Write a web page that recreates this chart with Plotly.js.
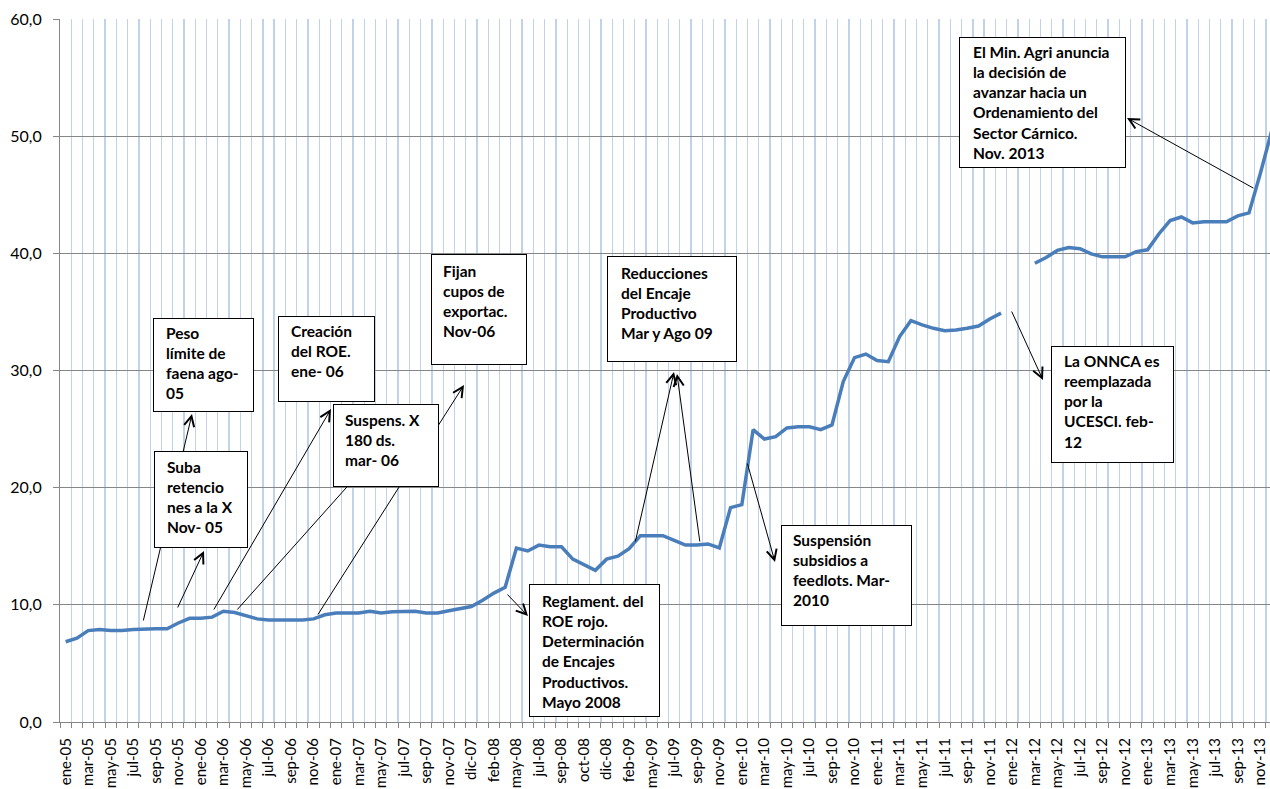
<!DOCTYPE html>
<html>
<head>
<meta charset="utf-8">
<script src="https://cdn.plot.ly/plotly-3.0.1.min.js"></script>
<style>
html,body{margin:0;padding:0;background:#fff;overflow:hidden}
#chart{width:1270px;height:789px}
</style>
</head>
<body>
<div id="chart"></div>
<script>
// ---- data ----
const tickLabels = ["ene-05","mar-05","may-05","jul-05","sep-05","nov-05","ene-06","mar-06","may-06","jul-06","sep-06","nov-06",
  "ene-07","mar-07","may-07","jul-07","sep-07","nov-07","dic-07","feb-08","may-08","jul-08","sep-08","oct-08","dic-08",
  "feb-09","may-09","jul-09","sep-09","nov-09","ene-10","mar-10","may-10","jul-10","sep-10","nov-10","ene-11","mar-11",
  "may-11","jul-11","sep-11","nov-11","ene-12","mar-12","may-12","jul-12","sep-12","nov-12","ene-13","mar-13","may-13",
  "jul-13","sep-13","nov-13"];

const values = [
  6.85, 7.15, 7.8, 7.9, 7.8, 7.8, 7.9, 7.95, 7.95, 7.95,
  8.45, 8.85, 8.85, 8.95, 9.45, 9.35, 9.05, 8.8, 8.7, 8.7,
  8.7, 8.7, 8.8, 9.15, 9.3, 9.3, 9.3, 9.45, 9.3, 9.4,
  9.45, 9.45, 9.3, 9.3, 9.5, 9.65, 9.85, 10.4, 11.0, 11.5,
  14.85, 14.6, 15.1, 14.95, 14.95, 13.9, 13.4, 12.95, 13.9, 14.15,
  14.8, 15.9, 15.9, 15.9, 15.5, 15.1, 15.1, 15.2, 14.85, 18.3,
  18.55, 24.95, 24.15, 24.35, 25.1, 25.2, 25.2, 24.95, 25.35, 29.05,
  31.1, 31.4, 30.85, 30.75, 32.9, 34.25, 33.9, 33.6, 33.4, 33.45,
  33.6, 33.8, 34.4, 34.9, null, null, 39.15, 39.65, 40.25, 40.5,
  40.4, 39.95, 39.7, 39.7, 39.7, 40.15, 40.3, 41.65, 42.8, 43.1,
  42.6, 42.7, 42.7, 42.7, 43.2, 43.45, 46.8, 50.4
];

const noteTexts = [
  ["Peso","límite de","faena ago-","05"],
  ["Suba","retencio","nes a la X","Nov- 05"],
  ["Creación","del ROE.","ene- 06"],
  ["Suspens. X","180 ds.","mar- 06"],
  ["Fijan","cupos de","exportac.","Nov-06"],
  ["Reducciones","del Encaje","Productivo","Mar y Ago 09"],
  ["Reglament. del","ROE rojo.","Determinación","de Encajes","Productivos.","Mayo 2008"],
  ["Suspensión","subsidios a","feedlots. Mar-","2010"],
  ["El Min. Agri anuncia","la decisión de","avanzar hacia un","Ordenamiento del","Sector Cárnico.","Nov. 2013"],
  ["La ONNCA es","reemplazada","por la","UCESCI. feb-","12"]
];

// ---- layout geometry (pixels) ----
const L = 60, T = 19, W = 1210, H = 703;
const px2x = p => (p - L) / W;
const py2y = p => (T + H - p) / H;

// box: [x0, y0, x1, y1, textLeft, firstLineCenter]
const boxes = [
  [153, 318, 254, 412, 167, 334],
  [154, 451, 248, 548, 168, 468],
  [278, 316, 375, 402, 292, 332],
  [333, 404, 439, 487, 346, 421],
  [431, 254, 527, 365, 444, 272],
  [607, 256, 737, 362, 622, 274],
  [529, 584, 660, 717, 543, 602],
  [781, 525, 912, 626, 794, 541],
  [959, 37, 1126, 168, 974, 53],
  [1051, 346, 1174, 463, 1065, 362]
];

// arrows: [tailX, tailY, headX, headY]
const arrows = [
  [143, 622, 192, 414],
  [177, 609, 204, 551],
  [213, 611, 331, 409],
  [236, 611, 380, 450],
  [317, 616, 464, 385],
  [506, 593, 528, 616],
  [635, 543, 674, 372],
  [700, 543, 677, 374],
  [747, 462, 775, 562],
  [1011, 310, 1043, 380],
  [1255, 189, 1127, 118]
];

const annotations = [];
arrows.forEach(a => {
  annotations.push({
    xref: 'paper', yref: 'paper', x: px2x(a[2]), y: py2y(a[3]),
    axref: 'pixel', ayref: 'pixel', ax: a[0] - a[2], ay: a[1] - a[3],
    text: '', showarrow: true, arrowhead: 5, arrowsize: 2, arrowwidth: 1,
    arrowcolor: '#000', standoff: 0, startstandoff: 0
  });
});
boxes.forEach(b => {
  annotations.push({
    xref: 'paper', yref: 'paper', x: px2x(b[0]), y: py2y(b[1]),
    xanchor: 'left', yanchor: 'top', text: '\u00a0', showarrow: false,
    width: b[2] - b[0] - 2, height: b[3] - b[1] - 2,
    bgcolor: '#ffffff', bordercolor: '#000', borderwidth: 1, borderpad: 0
  });
});
boxes.forEach((b, i) => {
  annotations.push({
    xref: 'paper', yref: 'paper', x: px2x(b[4] - 1), y: py2y(b[5] - 10),
    xanchor: 'left', yanchor: 'top', align: 'left', showarrow: false,
    text: noteTexts[i].map(s => '<b>' + s + '</b>').join('<br>'),
    font: {family: 'Lato, sans-serif', size: 15.5, color: '#000'},
    borderpad: 0, borderwidth: 0
  });
});

const xs = values.map((v, i) => i);
const tickVals = tickLabels.map((t, i) => 2 * i);

const trace = {
  x: xs, y: values, type: 'scatter', mode: 'lines',
  line: {color: '#4a7ebb', width: 3.5},
  connectgaps: false, hoverinfo: 'skip'
};

const layout = {
  width: 1270, height: 789,
  margin: {l: L, r: 0, t: T, b: 789 - T - H, pad: 0},
  paper_bgcolor: '#fff', plot_bgcolor: '#fff',
  showlegend: false,
  separators: ',.',
  font: {family: 'Lato, sans-serif', size: 15, color: '#000'},
  xaxis: {
    range: [-0.5, -0.5 + W / 11.27], tickmode: 'array', tickvals: tickVals, ticktext: tickLabels,
    tickangle: -90, showgrid: false, zeroline: false, ticks: '', showline: true,
    linecolor: '#868686', linewidth: 1, ticklabelstandoff: 9, automargin: false,
    tickfont: {family: 'Lato, sans-serif', size: 15, color: '#000'},
    minor: {tickmode: 'linear', tick0: -0.5, dtick: 1, showgrid: true, gridcolor: '#c0d3ea',
      gridwidth: 1.3, ticks: 'outside', ticklen: 5, tickcolor: '#868686', tickwidth: 1},
    fixedrange: true
  },
  yaxis: {
    range: [0, 60], tickmode: 'linear', tick0: 0, dtick: 10, tickformat: '.1f',
    showgrid: true, gridcolor: '#868686', gridwidth: 1, zeroline: false,
    showline: true, linecolor: '#868686', linewidth: 1,
    ticks: 'outside', ticklen: 6, tickcolor: '#868686', ticklabelstandoff: 8,
    tickfont: {family: 'Lato, sans-serif', size: 16, color: '#000'},
    automargin: false, fixedrange: true
  },
  annotations: annotations
};

Plotly.newPlot('chart', [trace], layout, {displayModeBar: false, staticPlot: true});
</script>
</body>
</html>
